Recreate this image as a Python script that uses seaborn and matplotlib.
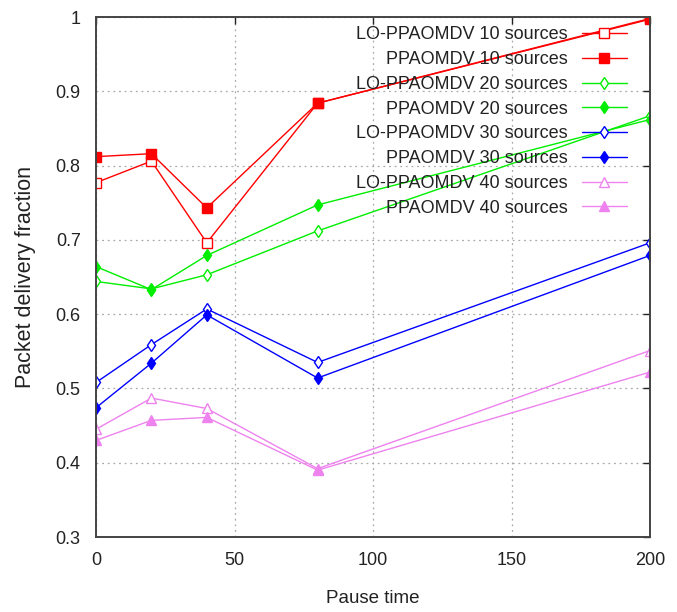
import matplotlib
matplotlib.use("Agg")
import matplotlib.pyplot as plt
import seaborn as sns
import pandas as pd

# Pause time values (x) and packet delivery fraction per protocol / source count
pause_time = [0, 20, 40, 80, 200]

lo_10 = [0.777, 0.806, 0.696, 0.884, 0.997]
pp_10 = [0.812, 0.816, 0.743, 0.884, 0.998]
lo_20 = [0.644, 0.634, 0.653, 0.712, 0.867]
pp_20 = [0.664, 0.633, 0.679, 0.747, 0.862]
lo_30 = [0.508, 0.559, 0.607, 0.535, 0.696]
pp_30 = [0.474, 0.534, 0.599, 0.514, 0.679]
lo_40 = [0.445, 0.487, 0.473, 0.392, 0.551]
pp_40 = [0.430, 0.457, 0.461, 0.390, 0.522]

labels = [
    "LO-PPAOMDV 10 sources", "PPAOMDV 10 sources",
    "LO-PPAOMDV 20 sources", "PPAOMDV 20 sources",
    "LO-PPAOMDV 30 sources", "PPAOMDV 30 sources",
    "LO-PPAOMDV 40 sources", "PPAOMDV 40 sources",
]
series = [lo_10, pp_10, lo_20, pp_20, lo_30, pp_30, lo_40, pp_40]

x_ticks = [0, 50, 100, 150, 200]
y_ticks = [0.3, 0.4, 0.5, 0.6, 0.7, 0.8, 0.9, 1.0]
y_tick_labels = ["0.3", "0.4", "0.5", "0.6", "0.7", "0.8", "0.9", "1"]

# Style for each series: colour, marker, filled or open, marker size
styles = [
    ("#ff0000", "s", False, 6.5),
    ("#ff0000", "s", True, 6.5),
    ("#00ee00", "d", False, 6.5),
    ("#00ee00", "d", True, 6.5),
    ("#0000ff", "d", False, 6.5),
    ("#0000ff", "d", True, 6.5),
    ("#ee82ee", "^", False, 7),
    ("#ee82ee", "^", True, 7),
]

sns.set_style("white")
plt.rcParams["font.family"] = ["Liberation Sans", "DejaVu Sans"]
plt.rcParams["text.color"] = "#222222"
plt.rcParams["axes.labelcolor"] = "#222222"
plt.rcParams["xtick.color"] = "#222222"
plt.rcParams["ytick.color"] = "#222222"

fig = plt.figure(figsize=(6.77, 6.12), dpi=100)
ax = fig.add_axes([96 / 677, 75 / 612, 554 / 677, 520 / 612])

for label, values, (color, marker, filled, ms) in zip(labels, series, styles):
    df = pd.DataFrame({"Pause time": pause_time, "fraction": values})
    sns.lineplot(
        data=df, x="Pause time", y="fraction", ax=ax, label=label,
        color=color, marker=marker, markersize=ms, linewidth=1.0,
        markerfacecolor=color if filled else "white",
        markeredgecolor=color, markeredgewidth=1.0,
    )

ax.set_xlim(0, 200)
ax.set_ylim(0.3, 1.0)
ax.set_xticks(x_ticks)
ax.set_xticklabels([str(t) for t in x_ticks], fontsize=13)
ax.set_yticks(y_ticks)
ax.set_yticklabels(y_tick_labels, fontsize=13)
ax.tick_params(direction="in", length=5, width=1.0, top=True, right=True,
               pad=11)
ax.grid(True, color="#aaaaaa", linestyle=(0, (1.5, 3)), linewidth=0.9)

for spine in ax.spines.values():
    spine.set_color("#444444")
    spine.set_linewidth(1.4)

ax.set_xlabel("Pause time", fontsize=13.5, labelpad=15)
ax.set_ylabel("Packet delivery fraction", fontsize=15.5, labelpad=14)

leg = ax.legend(
    loc="upper right", bbox_to_anchor=(0.958, 0.982), frameon=False,
    markerfirst=False, fontsize=13, handlelength=2.5, handletextpad=0.75,
    labelspacing=0.43, borderpad=0, borderaxespad=0,
)

fig.savefig("out.png", dpi=100)
